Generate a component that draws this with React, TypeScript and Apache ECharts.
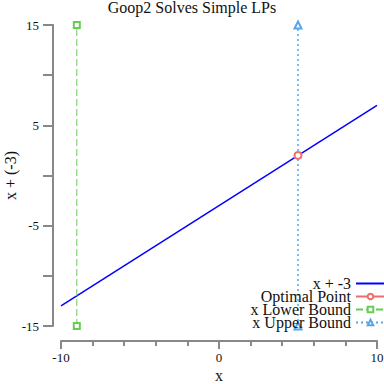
import React, { useEffect, useRef } from "react";
import * as echarts from "echarts";

const titleText = "Goop2 Solves Simple LPs";
const seriesNames = ["x + -3", "Optimal Point", "x Lower Bound", "x Upper Bound"];
const lineX = [-10, 10];
const lineY = [-13, 7];
const optimalX = [5];
const optimalY = [2];
const lowerX = [-9, -9];
const lowerY = [-15, 15];
const upperX = [5, 5];
const upperY = [-15, 15];
const xLabels = [-10, 0, 10];
const yLabels = [-15, -5, 5, 15];

const FONT = "Liberation Serif, Times New Roman, serif";
const BLUE = "#0000ff";
const RED = "#f26b6b";
const GREEN = "#66cc55";
const LBLUE = "#5aa5e6";
const AXIS = "#888888";

const pairs = (xs: number[], ys: number[]) => xs.map((x, i) => [x, ys[i]]);

export default function App() {
  const ref = useRef<HTMLDivElement>(null);
  useEffect(() => {
    if (!ref.current) return;
    const chart = echarts.init(ref.current, undefined, { renderer: "svg" });
    chart.setOption({
      animation: false,
      title: {
        text: titleText,
        left: "center",
        top: -1,
        padding: 0,
        textStyle: { fontFamily: FONT, fontSize: 16, fontWeight: "normal", color: "#111" },
      },
      grid: { left: 61, right: 7, top: 25, bottom: 58, containLabel: false, outerBoundsMode: "none" },
      legend: {
        orient: "vertical",
        right: -2,
        top: 275.5,
        padding: 0,
        align: "right",
        itemWidth: 29,
        itemHeight: 7,
        itemGap: -3,
        textStyle: { fontFamily: FONT, fontSize: 16, lineHeight: 13, color: "#111" },
        data: [
          { name: seriesNames[0], itemStyle: { opacity: 0 } },
          { name: seriesNames[1] },
          { name: seriesNames[2] },
          { name: seriesNames[3] },
        ],
      },
      xAxis: {
        type: "value",
        min: -10,
        max: 10,
        interval: 10,
        offset: 15,
        name: "x",
        nameLocation: "middle",
        nameGap: 26,
        nameMoveOverlap: false,
        nameTextStyle: { fontFamily: FONT, fontSize: 16, color: "#111" },
        axisLine: { show: true, onZero: false, lineStyle: { color: AXIS, width: 2 } },
        axisTick: { show: true, length: 8, lineStyle: { color: AXIS, width: 2 } },
        minorTick: { show: true, splitNumber: 5, length: 5, lineStyle: { color: AXIS, width: 2 } },
        splitLine: { show: false },
        axisLabel: {
          margin: 10,
          fontFamily: FONT,
          fontSize: 13,
          color: "#111",
          formatter: (v: number) => (xLabels.includes(v) ? String(v) : ""),
        },
      },
      yAxis: {
        type: "value",
        min: -15,
        max: 15,
        interval: 5,
        offset: 8,
        name: "x + (-3)",
        nameLocation: "middle",
        nameGap: 35,
        nameMoveOverlap: false,
        nameTextStyle: { fontFamily: FONT, fontSize: 16, color: "#111" },
        axisLine: { show: true, onZero: false, lineStyle: { color: AXIS, width: 2 } },
        axisTick: { show: true, length: 10, lineStyle: { color: AXIS, width: 2 } },
        splitLine: { show: false },
        axisLabel: {
          margin: 14,
          fontFamily: FONT,
          fontSize: 13,
          color: "#111",
          formatter: (v: number) => (yLabels.includes(v) ? String(v) : ""),
        },
      },
      series: [
        {
          name: seriesNames[0],
          type: "line",
          data: pairs(lineX, lineY),
          symbol: "none",
          lineStyle: { color: BLUE, width: 1.5 },
          itemStyle: { color: BLUE },
        },
        {
          name: seriesNames[1],
          type: "line",
          data: pairs(optimalX, optimalY),
          symbol: "emptyCircle",
          symbolSize: 7,
          showSymbol: true,
          lineStyle: { color: RED, width: 1 },
          itemStyle: { color: RED, borderWidth: 1 },
        },
        {
          name: seriesNames[2],
          type: "line",
          data: pairs(lowerX, lowerY),
          symbol: "emptyRect",
          symbolSize: 6,
          showSymbol: true,
          lineStyle: { color: GREEN, width: 1, type: [7, 3] },
          itemStyle: { color: GREEN, borderWidth: 1 },
        },
        {
          name: seriesNames[3],
          type: "line",
          data: pairs(upperX, upperY),
          symbol: "emptyTriangle",
          symbolSize: 7,
          showSymbol: true,
          lineStyle: { color: LBLUE, width: 1.5, type: [2, 3] },
          itemStyle: { color: LBLUE, borderWidth: 1 },
        },
      ],
    });
    return () => chart.dispose();
  }, []);
  return <div ref={ref} style={{ width: 384, height: 384, position: "absolute", left: 0, top: 0 }} />;
}
